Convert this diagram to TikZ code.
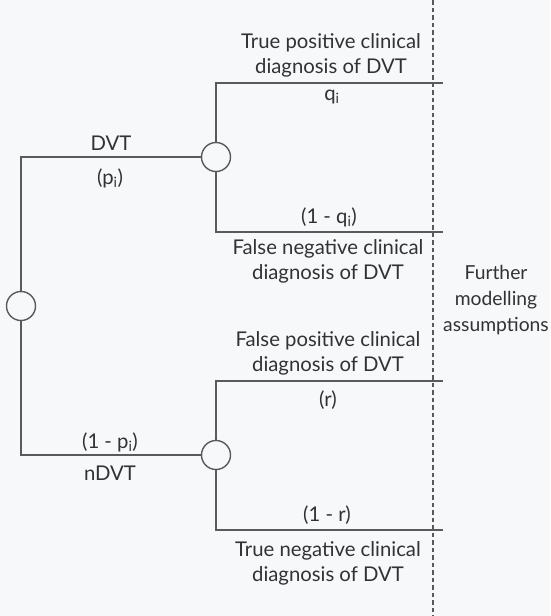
\documentclass[tikz,border=0pt]{standalone}
\usepackage{fontspec}
\setmainfont{Lato}
\begin{document}
\begin{tikzpicture}[x=1pt,y=-1pt,
  line/.style={draw=linegray,line width=1.4pt},
  chance/.style={circle,draw=linegray,line width=1.4pt,fill=bgcol,minimum size=29pt,inner sep=0pt},
  lbl/.style={text=txtgray,align=center,inner sep=0pt,font=\fontsize{20.3}{25}\selectfont},
  divider/.style={draw=linegray,line width=1.3pt,dash pattern=on 4.5pt off 3pt}]
\definecolor{linegray}{RGB}{90,90,90}
\definecolor{txtgray}{RGB}{50,50,50}
\definecolor{bgcol}{RGB}{246,248,250}
\fill[bgcol] (0,0) rectangle (550,616);
\useasboundingbox (0,0) rectangle (550,616);
% divider
\coordinate (dtop) at (433,0);
\coordinate (dbot) at (433,616);
\draw[divider] (dtop) -- (dbot);
% end coordinates
\coordinate (uT) at (216,83);
\coordinate (uTe) at (443,83);
\coordinate (uB) at (216,232);
\coordinate (uBe) at (443,232);
\coordinate (lT) at (216,381);
\coordinate (lTe) at (443,381);
\coordinate (lB) at (216,530);
\coordinate (lBe) at (443,530);
% chance nodes
\node[chance] (root) at (21,306) {};
\node[chance] (up) at (216,157) {};
\node[chance] (low) at (216,455) {};
% connectors
\draw[line] (root.north) |- (up.west);
\draw[line] (root.south) |- (low.west);
\draw[line] (up.north) -- (uT) -- (uTe);
\draw[line] (up.south) -- (uB) -- (uBe);
\draw[line] (low.north) -- (lT) -- (lTe);
\draw[line] (low.south) -- (lB) -- (lBe);
% labels
\node[lbl] (tp) at (331,55) {True positive clinical\\diagnosis of DVT};
\node[lbl] (q) at (332,97) {q\textsubscript{i}};
\node[lbl] (nq) at (329,217) {(1 - q\textsubscript{i})};
\node[lbl] (fn) at (328,261) {False negative clinical\\diagnosis of DVT};
\node[lbl] (fp) at (328,353) {False positive clinical\\diagnosis of DVT};
\node[lbl] (r) at (328,400) {(r)};
\node[lbl] (nr) at (327,515) {(1 - r)};
\node[lbl] (tn) at (328,563) {True negative clinical\\diagnosis of DVT};
\node[lbl] (dvt) at (111,143) {DVT};
\node[lbl] (p) at (110,178) {(p\textsubscript{i})};
\node[lbl] (np) at (110,442) {(1 - p\textsubscript{i})};
\node[lbl] (ndvt) at (110,473) {nDVT};
\node[lbl,font=\fontsize{19.3}{26}\selectfont] (fm) at (496,300) {Further\\modelling\\assumptions};
\end{tikzpicture}
\end{document}
